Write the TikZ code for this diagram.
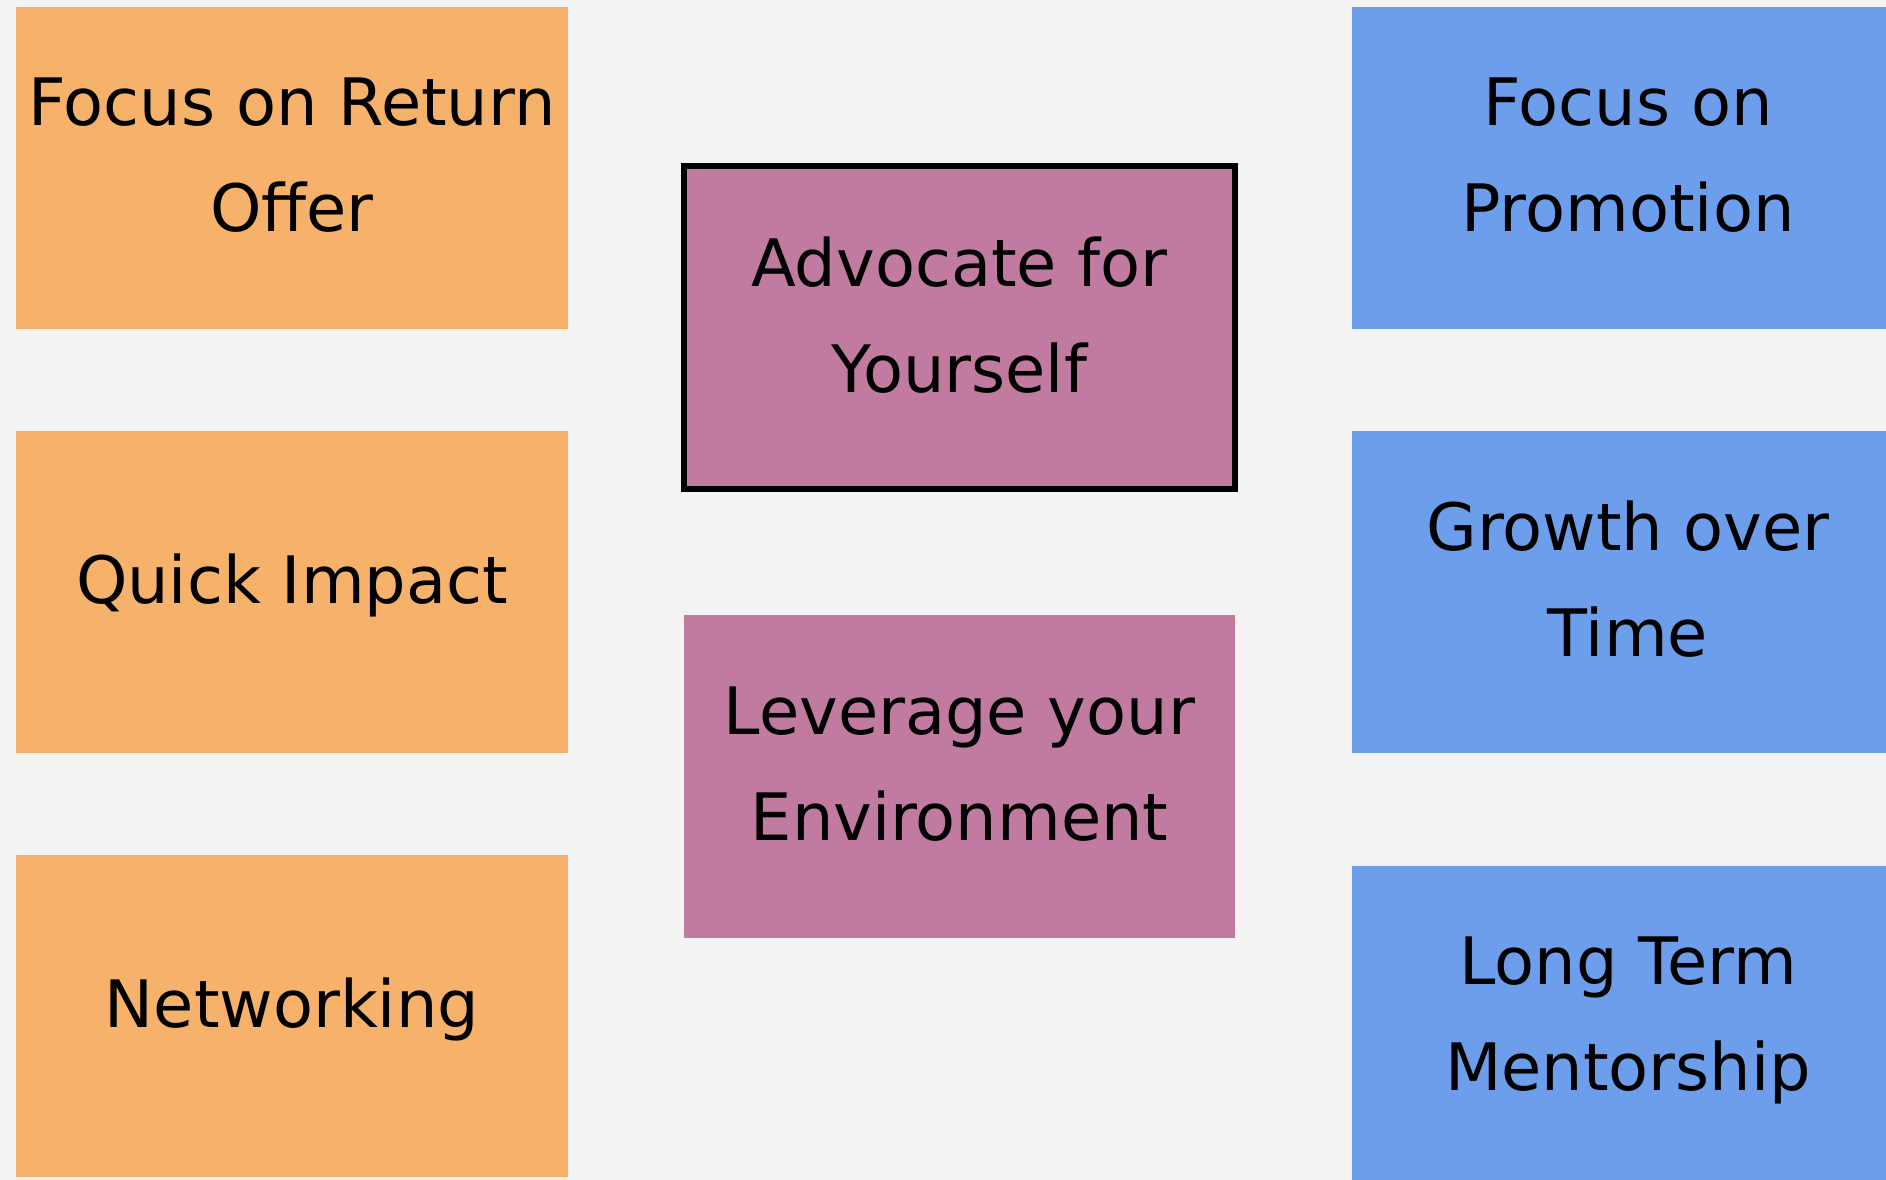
\documentclass[tikz,border=0pt]{standalone}
\usepackage{fontspec}
\setmainfont{DejaVu Sans}
\usepackage{tikz}
\usetikzlibrary{positioning}
\definecolor{bgcol}{HTML}{F3F3F3}
\definecolor{orangecol}{HTML}{F6B26B}
\definecolor{plumcol}{HTML}{C27BA0}
\definecolor{bluecol}{HTML}{6D9EEB}
\tikzset{
  card/.style={rectangle, minimum width=5.52cm, minimum height=3.22cm,
    inner sep=0pt, align=center, text depth=0.26cm,
    font=\fontsize{18.6}{30.2}\selectfont},
  leftcard/.style={card, fill=orangecol},
  midcard/.style={card, fill=plumcol, minimum width=5.51cm, minimum height=3.23cm},
  rightcard/.style={card, fill=bluecol}
}

\begin{document}
\begin{tikzpicture}[x=0.01cm, y=-0.01cm]
      \useasboundingbox (0,0) rectangle (1886,1180);
      \clip (0,0) rectangle (1886,1180);
      \fill[bgcol] (0,0) rectangle (1886,1180);

      % left column
      \node[leftcard] (ret) at (292, 168) {Focus on Return\\Offer};
      \node[leftcard] (quick) at (292, 592) {Quick Impact};
      \node[leftcard] (net) at (292, 1016) {Networking};

      % middle column
      \node[midcard, draw=black, line width=0.06cm] (adv) at (959.5, 327.5) {Advocate for\\Yourself};
      \node[midcard] (lev) at (959.5, 776.5) {Leverage your\\Environment};

      % right column
      \node[rightcard] (promo) at (1628, 168) {Focus on\\Promotion};
      \node[rightcard] (growth) at (1628, 592) {Growth over\\Time};
      \node[rightcard] (mentor) at (1628, 1027) {Long Term\\Mentorship};
    \end{tikzpicture}
\end{document}
